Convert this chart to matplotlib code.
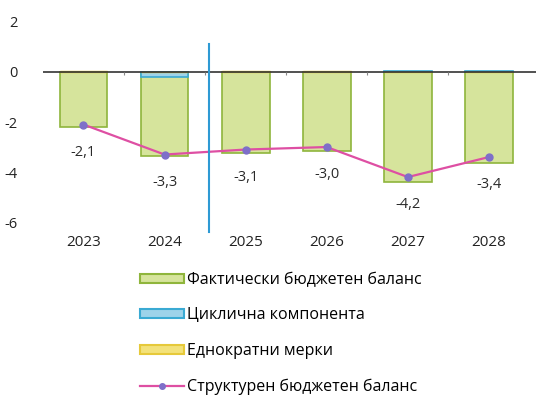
import matplotlib
matplotlib.use("Agg")
import matplotlib.pyplot as plt
import numpy as np
from matplotlib.patches import Patch
from matplotlib.lines import Line2D

years = ["2023", "2024", "2025", "2026", "2027", "2028"]
actual = [-2.2, -3.35, -3.25, -3.15, -4.4, -3.65]
cyclical = [0.0, -0.2, 0.0, 0.0, 0.05, 0.05]
one_off = [0.02, 0.0, 0.02, 0.02, 0.0, 0.0]
structural = [-2.1, -3.3, -3.1, -3.0, -4.2, -3.4]
struct_labels = ["-2,1", "-3,3", "-3,1", "-3,0", "-4,2", "-3,4"]

plt.rcParams["font.family"] = ["Open Sans", "DejaVu Sans"]

fig = plt.figure(figsize=(5.36, 3.98), dpi=100)
ax = fig.add_axes([0.08, 0.442, 0.92, 0.528])

x = np.arange(len(years))
w = 0.59
ax.bar(x, actual, w, color="#d6e49c", edgecolor="#8fb53c", linewidth=1.2, zorder=2)
ax.bar(x, cyclical, w, color="#9dd3ea", edgecolor="#3aaad3", linewidth=1.2, zorder=3)
ax.bar(x, one_off, w, color="#f3e27a", edgecolor="#e6c93a", linewidth=1.0, zorder=3)
ax.plot(x, structural, color="#de4fa3", lw=1.6, marker="o", ms=5,
        mfc="#7e6fc9", mec="#7e6fc9", zorder=5)
for xi, v, s in zip(x, structural, struct_labels):
    ax.annotate(s, (xi, v), xytext=(0, -20), textcoords="offset points",
                ha="center", va="center", fontsize=10.5, color="#2a2a2a")

ax.axhline(0, color="#333333", lw=1.2, zorder=4)
ax.vlines(x[:-1] + 0.5, -0.12, 0, color="#888888", lw=0.8, zorder=4)
# forecast separator
ax.plot([1.55, 1.55], [1.1, -6.4], color="#2e9ad4", lw=1.5, clip_on=False, zorder=6)

ax.set_xlim(-0.5, 5.58)
ax.set_ylim(-6, 2.4)
ax.set_yticks([-6, -4, -2, 0, 2])
ax.set_yticklabels(["-6", "-4", "-2", "0", "2"], fontsize=10.5)
ax.set_xticks(x)
ax.set_xticklabels(years, fontsize=11)
ax.tick_params(length=0, colors="#222222")
ax.tick_params(axis="y", pad=18)
ax.tick_params(axis="x", pad=9)
for s in ax.spines.values():
    s.set_visible(False)

handles = [
    Patch(facecolor="#d6e49c", edgecolor="#8fb53c", linewidth=1.5),
    Patch(facecolor="#9dd3ea", edgecolor="#3aaad3", linewidth=1.5),
    Patch(facecolor="#f3e27a", edgecolor="#e6c93a", linewidth=1.5),
    Line2D([0], [0], color="#de4fa3", lw=1.6, marker="o", ms=4,
           mfc="#7e6fc9", mec="#7e6fc9"),
]
labels = ["Фактически бюджетен баланс", "Циклична компонента",
          "Еднократни мерки", "Структурен бюджетен баланс"]
fig.legend(handles, labels, loc="upper left", bbox_to_anchor=(0.247, 0.337),
           frameon=False, fontsize=11.5, handlelength=2.7, handleheight=0.5,
           handletextpad=0.25, labelspacing=1.22, borderpad=0)

fig.savefig("out.png", dpi=100)
